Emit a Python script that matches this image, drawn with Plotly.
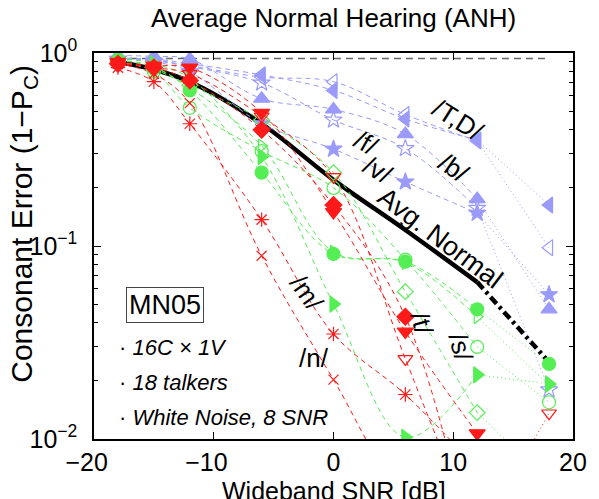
import plotly.graph_objects as go

snr = [-18, -15, -12, -6, 0, 6, 12, 18]
chance = 15 / 16

avg_normal = [0.90, 0.82, 0.71, 0.43, 0.22, 0.121, 0.065, 0.025]

# blue group
th_vals = [0.94, 0.93, 0.88, 0.77, 0.64, 0.455, 0.354, 0.163]
dh_vals = [0.94, 0.92, 0.86, 0.75, 0.71, 0.48, 0.35, 0.098]
b_vals = [0.97, 0.96, 0.93, 0.58, 0.51, 0.38, 0.175, 0.047]
f_vals = [0.93, 0.91, 0.85, 0.70, 0.45, 0.32, 0.157, 0.018]
v_vals = [0.93, 0.90, 0.80, 0.43, 0.318, 0.215, 0.148, 0.056]

# green group
s_vals = [0.92, 0.85, 0.64, 0.24, 0.091, 0.083, 0.047, 0.0245]
z_vals = [0.90, 0.80, 0.52, 0.31, 0.20, 0.085, 0.030, 0.0155]
sh_vals = [0.95, 0.88, 0.74, 0.29, 0.05, 0.0102, 0.0215, 0.0193]
zh_vals = [0.90, 0.82, 0.68, 0.45, 0.24, 0.058, 0.0137, 0.006]
g_vals = [0.92, 0.84, 0.66, 0.33, 0.093, 0.082, 0.043, 0.019]

# red group
m_vals = [0.84, 0.71, 0.43, 0.137, 0.035, 0.017, 0.007, 0.003]
n_vals = [0.88, 0.78, 0.55, 0.089, 0.0203, 0.005, 0.003, 0.002]
t_vals = [0.90, 0.86, 0.84, 0.49, 0.15, 0.036, 0.0107, 0.004]
d_vals = [0.88, 0.84, 0.72, 0.40, 0.163, 0.043, 0.002, 0.001]
k_vals = [0.88, 0.84, 0.78, 0.47, 0.228, 0.026, 0.003, 0.0136]

x_tick_vals = [-20, -10, 0, 10, 20]
x_tick_text = ["−20", "−10", "0", "10", "20"]
y_tick_vals = [0.01, 0.1, 1]
y_tick_text = ["10<sup>−2</sup>", "10<sup>−1</sup>", "10<sup>0</sup>"]

BLUE = "#9a9afa"
GREEN = "#55ee55"
RED = "#ff1a1a"

series = [
    ("/T/", th_vals, BLUE, "triangle-left", 14),
    ("/D/", dh_vals, BLUE, "triangle-left-open", 14),
    ("/b/", b_vals, BLUE, "triangle-up", 14),
    ("/f/", f_vals, BLUE, "star-open", 13),
    ("/v/", v_vals, BLUE, "star", 13),
    ("/s/", s_vals, GREEN, "circle", 13),
    ("/z/", z_vals, GREEN, "circle-open", 13),
    ("/S/", sh_vals, GREEN, "triangle-right", 14),
    ("/Z/", zh_vals, GREEN, "diamond-open", 12),
    ("/g/", g_vals, GREEN, "triangle-right-open", 12),
    ("/m/", m_vals, RED, "asterisk-open", 12),
    ("/n/", n_vals, RED, "x-thin-open", 10),
    ("/t/", t_vals, RED, "triangle-down", 14),
    ("/d/", d_vals, RED, "diamond", 13),
    ("/k/", k_vals, RED, "triangle-down-open", 13),
]

fig = go.Figure()

# chance line
fig.add_trace(go.Scatter(x=[snr[0], snr[-1]], y=[chance, chance], mode="lines",
                         line=dict(color="#666666", width=1.5, dash="7px,5px"),
                         hoverinfo="skip"))

# average normal
fig.add_trace(go.Scatter(x=snr[:7], y=avg_normal[:7], mode="lines",
                         line=dict(color="black", width=4.5, shape="spline"),
                         hoverinfo="skip"))
fig.add_trace(go.Scatter(x=snr[6:], y=avg_normal[6:], mode="lines",
                         line=dict(color="black", width=4.5, dash="9px,4px,3px,4px"),
                         hoverinfo="skip"))

for name, vals, col, sym, sz in series:
    fig.add_trace(go.Scatter(x=snr[:7], y=vals[:7], mode="lines",
                             line=dict(color=col, width=1, dash="5px,4px", shape="spline"),
                             hoverinfo="skip"))
    fig.add_trace(go.Scatter(x=snr[6:], y=vals[6:], mode="lines",
                             line=dict(color=col, width=1, dash="1px,3px"),
                             hoverinfo="skip"))
for name, vals, col, sym, sz in series:
    fig.add_trace(go.Scatter(x=snr, y=vals, mode="markers", name=name,
                             marker=dict(symbol=sym, size=sz, color=col,
                                         line=dict(color=col, width=1.2))))

FONT = "Liberation Sans, Arial, Helvetica, sans-serif"

ann = []
def lab(text, x, ylog, angle=0, size=26, xanchor="center", **kw):
    ann.append(dict(text=text, x=x, y=ylog, xref="x", yref="y", showarrow=False,
                    textangle=angle, xanchor=xanchor, yanchor="middle",
                    font=dict(family=FONT, size=size, color="black"), **kw))

lab("/T,D/", 10.4, -0.347, 32)
lab("/f/", 2.73, -0.466, 30)
lab("/v/", 3.71, -0.606, 30)
lab("/b/", 10.06, -0.596, 35)
lab("Avg. Normal", 8.9, -0.96, 37, size=27)
lab("/m/", -2.24, -1.244, 55)
lab("/n/", -1.59, -1.580, 0)
lab("/t/", 7.37, -1.399, 75)
lab("/s/", 10.63, -1.523, 75)
lab("MN05", -14.1, -1.306, 0, size=27, bordercolor="#444444", borderwidth=1,
    borderpad=2, bgcolor="white")
lab("· <i>16C × 1V</i>", -18.1, -1.528, 0, size=22, xanchor="left")
lab("· <i>18 talkers</i>", -18.1, -1.705, 0, size=22, xanchor="left")
lab("· <i>White Noise, 8 SNR</i>", -18.1, -1.886, 0, size=22, xanchor="left")

# titles
ann.append(dict(text="Average Normal Hearing (ANH)", x=0.5, y=1.09, xref="paper", yref="paper",
                showarrow=False, xanchor="center", yanchor="middle",
                font=dict(family=FONT, size=26, color="black")))
ann.append(dict(text="Consonant Error (1−P<sub>C</sub>)", x=-0.1466, y=0.557, xref="paper",
                yref="paper", showarrow=False, textangle=-90, xanchor="center", yanchor="middle",
                font=dict(family=FONT, size=30, color="black")))
ann.append(dict(text="Wideband SNR [dB]", x=0.5, y=-0.134, xref="paper", yref="paper",
                showarrow=False, xanchor="center", yanchor="middle",
                font=dict(family=FONT, size=25, color="black")))

minor_y = [m * 10 ** e for e in (-2, -1) for m in range(2, 10)]

# keep the digits centred on the tick, with the minus sign hanging to the left
pad = "<span style='color:rgba(0,0,0,0)'>−</span>"
xt_text = [t + pad if t.startswith("−") else t for t in x_tick_text]

fig.update_layout(
    width=599, height=499,
    margin=dict(l=94, r=14, t=53, b=60),
    paper_bgcolor="white", plot_bgcolor="white",
    showlegend=False,
    annotations=ann,
    font=dict(family=FONT, size=24, color="black"),
    xaxis=dict(range=[-20, 20], tickvals=x_tick_vals, ticktext=xt_text,
               ticks="inside", ticklen=7, tickcolor="black", tickwidth=1,
               showline=True, linecolor="black", linewidth=1.5, mirror="allticks",
               showgrid=False, zeroline=False, ticklabelstandoff=0,
               tickfont=dict(family=FONT, size=25)),
    yaxis=dict(type="log", range=[-2, 0], tickvals=y_tick_vals, ticktext=y_tick_text,
               ticks="inside", ticklen=7, tickcolor="black", tickwidth=1,
               showline=True, linecolor="black", linewidth=1.5, mirror="allticks",
               showgrid=False, zeroline=False, ticklabelstandoff=10,
               minor=dict(tickvals=minor_y, ticks="inside", ticklen=4,
                          tickcolor="black", showgrid=False),
               tickfont=dict(family=FONT, size=25)),
)

fig.write_html("out.html")
